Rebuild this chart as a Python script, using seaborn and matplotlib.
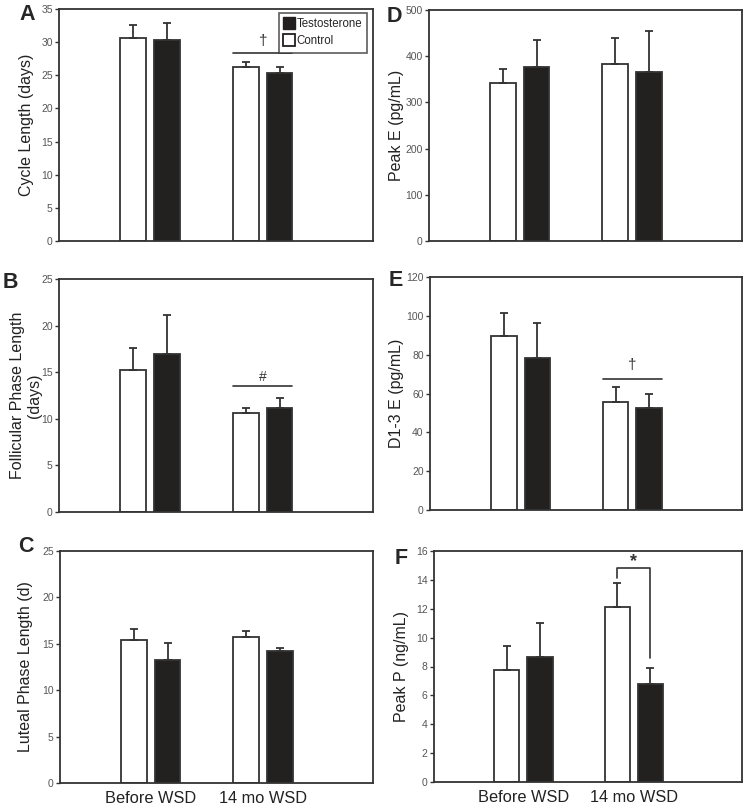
import matplotlib
matplotlib.use("Agg")
import matplotlib.pyplot as plt
import seaborn as sns
import pandas as pd
from matplotlib.lines import Line2D

sns.set_style("white")
plt.rcParams['font.family'] = ['Liberation Sans', 'DejaVu Sans']

timepoints = ["Before WSD", "14 mo WSD"]
groups = ["Control", "Testosterone"]

# mean values per timepoint for each group, and upper error lengths
cycle_ctrl = [30.6, 26.3]
cycle_test = [30.3, 25.4]
cycle_ctrl_err = [2.0, 0.7]
cycle_test_err = [2.6, 0.8]

foll_ctrl = [15.2, 10.65]
foll_test = [17.0, 11.2]
foll_ctrl_err = [2.45, 0.5]
foll_test_err = [4.1, 1.0]

lut_ctrl = [15.4, 15.7]
lut_test = [13.3, 14.2]
lut_ctrl_err = [1.2, 0.65]
lut_test_err = [1.75, 0.4]

peakE_ctrl = [343, 383]
peakE_test = [377, 366]
peakE_ctrl_err = [29, 57]
peakE_test_err = [58, 89]

d13E_ctrl = [89.4, 55.7]
d13E_test = [78.2, 52.3]
d13E_ctrl_err = [12.0, 7.9]
d13E_test_err = [17.9, 7.5]

peakP_ctrl = [7.76, 12.15]
peakP_test = [8.63, 6.81]
peakP_ctrl_err = [1.68, 1.62]
peakP_test_err = [2.4, 1.11]

panels = [
    dict(letter="A", ylabel="Cycle Length (days)", ymax=35, step=5,
         ctrl=cycle_ctrl, test=cycle_test, ce=cycle_ctrl_err, te=cycle_test_err,
         pos=[59, 9, 373, 241], lab_x=27, let=(35, 15)),
    dict(letter="B", ylabel="Follicular Phase Length\n(days)", ymax=25, step=5,
         ctrl=foll_ctrl, test=foll_test, ce=foll_ctrl_err, te=foll_test_err,
         pos=[59, 279, 373, 512], lab_x=26, let=(18, 283)),
    dict(letter="C", ylabel="Luteal Phase Length (d)", ymax=25, step=5,
         ctrl=lut_ctrl, test=lut_test, ce=lut_ctrl_err, te=lut_test_err,
         pos=[60, 551, 373, 783], lab_x=26, let=(34, 547)),
    dict(letter="D", ylabel="Peak E (pg/mL)", ymax=500, step=100,
         ctrl=peakE_ctrl, test=peakE_test, ce=peakE_ctrl_err, te=peakE_test_err,
         pos=[429, 10, 742, 241], lab_x=396, let=(402, 17)),
    dict(letter="E", ylabel="D1-3 E (pg/mL)", ymax=120, step=20,
         ctrl=d13E_ctrl, test=d13E_test, ce=d13E_ctrl_err, te=d13E_test_err,
         pos=[430, 277, 742, 510], lab_x=397, let=(403, 280)),
    dict(letter="F", ylabel="Peak P (ng/mL)", ymax=16, step=2,
         ctrl=peakP_ctrl, test=peakP_test, ce=peakP_ctrl_err, te=peakP_test_err,
         pos=[434, 551, 742, 782], lab_x=402, let=(408, 558)),
]

W, H = 749, 810
fig = plt.figure(figsize=(W / 100, H / 100), dpi=100)
frame_col = "#333333"
bar_black = "#231f20"

axes = {}
for p in panels:
    l, t, r, b = p["pos"]
    ax = fig.add_axes([l / W, 1 - b / H, (r - l) / W, (b - t) / H])
    axes[p["letter"]] = ax
    df = pd.DataFrame({
        "Time": timepoints * 2,
        "Group": ["Control"] * 2 + ["Testosterone"] * 2,
        "Value": list(p["ctrl"]) + list(p["test"]),
    })
    sns.barplot(data=df, x="Time", y="Value", hue="Group", order=timepoints,
                hue_order=groups, palette={"Control": "white", "Testosterone": bar_black},
                width=0.6, gap=0.24, errorbar=None, edgecolor=frame_col,
                linewidth=1.3, legend=False, ax=ax)
    errs = [p["ce"], p["te"]]
    for cont, err in zip(ax.containers, errs):
        for bar, e in zip(cont, err):
            xc = bar.get_x() + bar.get_width() / 2
            yv = bar.get_height()
            ax.errorbar([xc], [yv], yerr=[[0], [e]], fmt="none", ecolor=frame_col,
                        elinewidth=1.3, capsize=2.8, capthick=1.3, zorder=1)
    ax.set_xlim(-0.81, 1.98)
    ax.set_ylim(0, p["ymax"])
    ax.set_yticks(range(0, p["ymax"] + 1, p["step"]))
    ax.tick_params(axis="y", direction="out", length=3, width=1, color=frame_col,
                   labelsize=7.5, labelcolor="#555555", pad=1.5, left=True)
    ax.tick_params(axis="x", length=0, pad=6)
    for s in ax.spines.values():
        s.set_color(frame_col)
        s.set_linewidth(1.3)
    ax.set_xlabel("")
    ax.set_ylabel(p["ylabel"], fontsize=11.5, color="#222222", linespacing=1.15,
                  va="center")
    ax.yaxis.set_label_coords((p["lab_x"] - l) / (r - l), 0.5)
    if p["letter"] in ("C", "F"):
        ax.set_xticks(range(len(timepoints)))
        ax.set_xticklabels(timepoints, fontsize=11.8, color="#222222")
    else:
        ax.set_xticklabels([])
    lx, ly = p["let"]
    fig.text(lx / W, 1 - ly / H, p["letter"], fontsize=15.5, fontweight="bold",
             ha="right", va="center")

def group_span(ax):
    c0 = ax.containers[0][1]
    c1 = ax.containers[1][1]
    return c0.get_x(), c1.get_x() + c1.get_width(), c0, c1

axA = axes["A"]
x0, x1, _, _ = group_span(axA)
axA.plot([x0, x1], [28.4, 28.4], color=frame_col, lw=1.2)
axA.text((x0 + x1) / 2, 30.2, "†", ha="center", va="center", fontsize=11, color="#333333")

axB = axes["B"]
x0, x1, _, _ = group_span(axB)
axB.plot([x0, x1], [13.55, 13.55], color=frame_col, lw=1.2)
axB.text((x0 + x1) / 2, 14.5, "#", ha="center", va="center", fontsize=10, color="#333333")

axE = axes["E"]
x0, x1, _, _ = group_span(axE)
axE.plot([x0, x1], [67.7, 67.7], color=frame_col, lw=1.2)
axE.text((x0 + x1) / 2, 74.5, "†", ha="center", va="center", fontsize=11, color="#333333")

axF = axes["F"]
_, _, c0, c1 = group_span(axF)
xa = c0.get_x() + c0.get_width() / 2
xb = c1.get_x() + c1.get_width() / 2
axF.plot([xa, xa, xb, xb], [14.15, 14.8, 14.8, 8.6], color=frame_col, lw=1.2)
axF.text((xa + xb) / 2, 15.3, "*", ha="center", va="center", fontsize=13,
         fontweight="bold", color="#333333")

handles = [
    Line2D([0], [0], marker="s", color="none", markerfacecolor=bar_black,
           markeredgecolor=bar_black, markersize=8, label="Testosterone"),
    Line2D([0], [0], marker="s", color="none", markerfacecolor="white",
           markeredgecolor=bar_black, markeredgewidth=1.3, markersize=8, label="Control"),
]
leg = axA.legend(handles=handles, loc="upper right", fontsize=8.3, frameon=True,
                 fancybox=False, edgecolor=frame_col, handlelength=0.8,
                 handletextpad=0.25, borderpad=0.45, labelspacing=0.45,
                 borderaxespad=0, bbox_to_anchor=(0.981, 0.983))
leg.get_frame().set_linewidth(1.2)

fig.savefig("out.png", dpi=100)
